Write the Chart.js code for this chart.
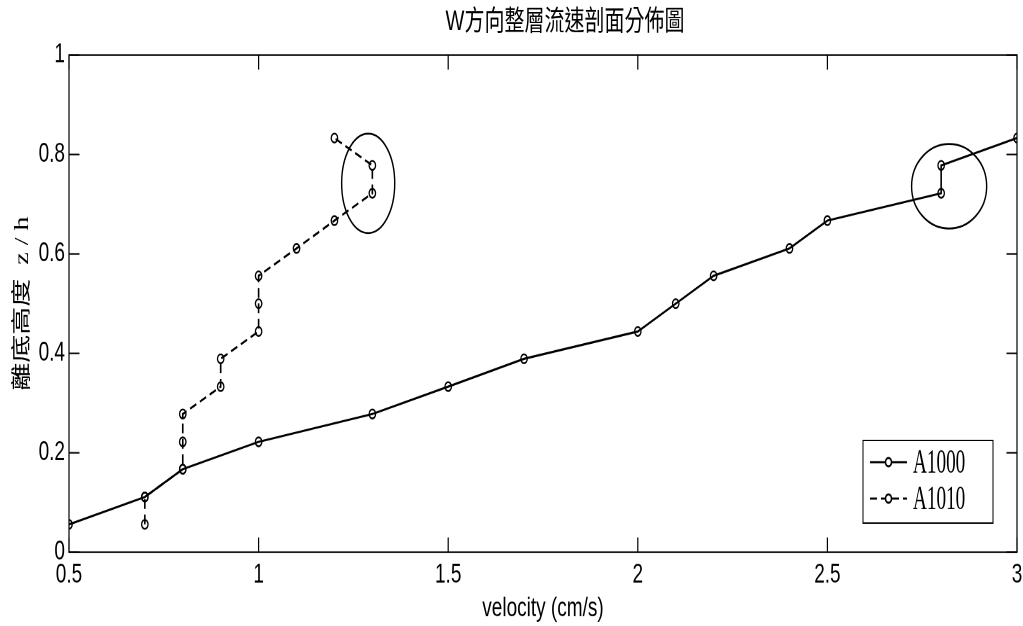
<!DOCTYPE html>
<html>
<head>
<meta charset="utf-8">
<script src="https://cdn.jsdelivr.net/npm/chart.js@4"></script>
<style>
  html, body { margin: 0; padding: 0; background: #fff; overflow: hidden; }
</style>
</head>
<body>
<!-- drawn at 1023x447 and stretched to 626 high, like the original figure -->
<canvas id="chart" width="1023" height="447" style="width:1023px;height:626px;display:block"></canvas>
<script>
// z/h levels (same for both runs)
var zh = [0.056, 0.111, 0.167, 0.222, 0.278, 0.333, 0.389, 0.444, 0.5, 0.556, 0.611, 0.667, 0.722, 0.778, 0.833]
// velocities (cm/s)
var velA1000 = [0.5, 0.7, 0.8, 1.0, 1.3, 1.5, 1.7, 2.0, 2.1, 2.2, 2.4, 2.5, 2.8, 2.8, 3.0]
var velA1010 = [0.7, 0.7, 0.8, 0.8, 0.8, 0.9, 0.9, 1.0, 1.0, 1.0, 1.1, 1.2, 1.3, 1.3, 1.2]
var seriesNames = ['A1000', 'A1010']

var xTicks = [0.5, 1, 1.5, 2, 2.5, 3]
var yTicks = [0, 0.2, 0.4, 0.6, 0.8, 1]

// circled regions: [centre x, centre y, radius x, radius y] in data units
var circles = [
  [1.289, 0.742, 0.070, 0.100],
  [2.821, 0.736, 0.099, 0.085]
]

var chartTitle = 'W方向整層流速剖面分佈圖'

function toPoints(xs, ys){
  return xs.map((x, i) => ({x: x, y: ys[i]}))
}

var frame = {
  id: 'frame',
  afterDatasetsDraw(chart){
    var ctx = chart.ctx
    var a = chart.chartArea
    var xs = chart.scales.x, ys = chart.scales.y
    ctx.save()
    ctx.strokeStyle = '#000'
    ctx.lineWidth = 1.2

    // box
    ctx.strokeRect(a.left, a.top, a.right - a.left, a.bottom - a.top)

    // inward ticks on all four sides
    ctx.beginPath()
    xTicks.forEach((v) => {
      var px = xs.getPixelForValue(v)
      ctx.moveTo(px, a.bottom); ctx.lineTo(px, a.bottom - 10.5)
      ctx.moveTo(px, a.top); ctx.lineTo(px, a.top + 10.5)
    })
    yTicks.forEach((v) => {
      var py = ys.getPixelForValue(v)
      ctx.moveTo(a.left, py); ctx.lineTo(a.left + 10.5, py)
      ctx.moveTo(a.right, py); ctx.lineTo(a.right - 10.5, py)
    })
    ctx.stroke()

    // ellipses
    ctx.lineWidth = 1.4
    circles.forEach((c) => {
      var cx = xs.getPixelForValue(c[0]), cy = ys.getPixelForValue(c[1])
      var rx = xs.getPixelForValue(c[0] + c[2]) - cx
      var ry = cy - ys.getPixelForValue(c[1] + c[3])
      ctx.beginPath()
      ctx.ellipse(cx, cy, rx, ry, 0, 0, Math.PI * 2)
      ctx.stroke()
    })

    // legend box, bottom right inside the axes
    var lx = 863, ly = 314.5, lw = 130, lh = 59
    ctx.fillStyle = '#fff'
    ctx.fillRect(lx, ly, lw, lh)
    ctx.lineWidth = 1
    ctx.strokeRect(lx, ly, lw, lh)
    chart.data.datasets.forEach((ds, i) => {
      var y = ly + 15.5 + i * 26
      ctx.lineWidth = 1.5
      ctx.setLineDash(ds.borderDash || [])
      ctx.beginPath()
      ctx.moveTo(870, y); ctx.lineTo(907, y)
      ctx.stroke()
      ctx.setLineDash([])
      ctx.beginPath()
      ctx.arc(888.5, y, 3, 0, Math.PI * 2)
      ctx.fillStyle = '#fff'
      ctx.fill()
      ctx.stroke()
      ctx.save()
      ctx.translate(913, y)
      ctx.scale(0.8, 1)
      ctx.fillStyle = '#000'
      ctx.font = '24px "Liberation Serif", serif'
      ctx.textBaseline = 'middle'
      ctx.fillText(ds.label, 0, 1)
      ctx.restore()
    })

    // title
    ctx.fillStyle = '#000'
    ctx.font = '20px "Liberation Sans", "Noto Sans CJK TC", sans-serif'
    ctx.textAlign = 'center'
    ctx.textBaseline = 'middle'
    ctx.fillText(chartTitle, 565, 16)
    ctx.restore()
  }
}

var chart = new Chart(document.getElementById('chart'), {
  type: 'line',
  data: {
    datasets: [
      {
        label: seriesNames[0],
        data: toPoints(velA1000, zh),
        borderColor: '#000',
        borderWidth: 1.6,
        pointRadius: 3.2,
        pointBorderWidth: 1.3,
        pointBorderColor: '#000',
        pointBackgroundColor: 'rgba(0,0,0,0)'
      },
      {
        label: seriesNames[1],
        data: toPoints(velA1010, zh),
        borderColor: '#000',
        borderWidth: 1.6,
        borderDash: [7, 4],
        pointRadius: 3.2,
        pointBorderWidth: 1.3,
        pointBorderColor: '#000',
        pointBackgroundColor: 'rgba(0,0,0,0)'
      }
    ]
  },
  options: {
    responsive: false,
    devicePixelRatio: 2,
    animation: false,
    layout: {
      padding: {top: 39.3, right: 6, bottom: 0, left: 0}
    },
    plugins: {
      legend: {display: false},
      tooltip: {enabled: false},
      title: {display: false}
    },
    scales: {
      x: {
        type: 'linear',
        min: 0.5,
        max: 3,
        afterBuildTicks: (s) => { s.ticks = xTicks.map((v) => ({value: v})) },
        afterFit: (s) => { s.height = 52.7; s.paddingLeft = 0; s.paddingRight = 0 },
        grid: {display: false, drawTicks: false},
        border: {display: false},
        ticks: {
          color: '#000',
          padding: 5,
          maxRotation: 0,
          autoSkip: false,
          callback: (v) => String(v),
          font: {family: '"Liberation Sans", Arial, sans-serif', size: 19}
        },
        title: {
          display: true,
          text: 'velocity (cm/s)',
          color: '#000',
          padding: {top: 0, bottom: 1},
          font: {family: '"Liberation Sans", Arial, sans-serif', size: 19}
        }
      },
      y: {
        type: 'linear',
        min: 0,
        max: 1,
        afterBuildTicks: (s) => { s.ticks = yTicks.map((v) => ({value: v})) },
        afterFit: (s) => { s.width = 69; s.paddingTop = 0; s.paddingBottom = 0 },
        grid: {display: false, drawTicks: false},
        border: {display: false},
        ticks: {
          color: '#000',
          padding: 4,
          autoSkip: false,
          callback: (v) => String(v),
          font: {family: '"Liberation Sans", Arial, sans-serif', size: 19}
        },
        title: {
          display: true,
          text: '離底高度  z / h',
          color: '#000',
          padding: {top: 10.5, bottom: 0},
          font: {family: '"Liberation Serif", "Noto Sans CJK TC", serif', size: 20}
        }
      }
    }
  },
  plugins: [frame]
});
</script>
</body>
</html>
